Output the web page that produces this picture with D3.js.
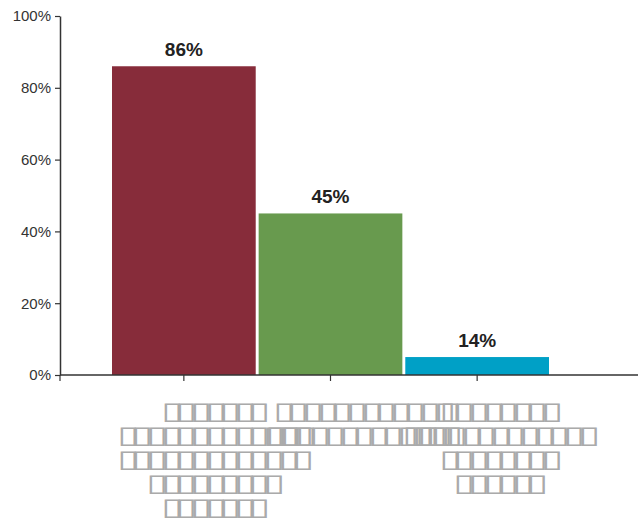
<!DOCTYPE html>
<html>
<head>
<meta charset="utf-8">
<script src="https://cdn.jsdelivr.net/npm/d3@7"></script>
<style>
  body { margin: 0; background: #fff; }
  text { font-family: "Liberation Sans", Arial, sans-serif; }
</style>
</head>
<body>
<div id="main"></div>
<script>
// data
const categories = ["A", "B", "C"];
const values = [86, 45, 5];
const valueLabels = ["86%", "45%", "14%"];
const yTicks = [0, 20, 40, 60, 80, 100];
// category labels are unreadable boxes (missing glyphs) in the reference
const categoryLines = [
  ["▯▯▯▯▯▯▯", "▯▯▯▯▯▯▯▯▯▯▯▯▯", "▯▯▯▯▯▯▯▯▯▯▯▯▯", "▯▯▯▯▯▯▯▯▯", "▯▯▯▯▯▯▯"],
  ["▯▯▯▯▯▯▯▯▯▯▯▯", "▯▯▯▯▯▯▯▯▯▯▯▯▯"],
  ["▯▯▯▯▯▯▯▯", "▯▯▯▯▯▯▯▯▯▯▯▯▯", "▯▯▯▯▯▯▯▯", "▯▯▯▯▯▯"]
];
const colors = ["#872c3a", "#689a4e", "#00a0c6"];

const ctx = { width: 642, height: 521, left: 60, right: 638, top: 16, bottom: 375 };

const svg = d3.select("#main").append("svg")
  .attr("width", ctx.width)
  .attr("height", ctx.height);

const x = d3.scaleBand()
  .domain(categories)
  .range([112, 549])
  .paddingInner(0.02);

const y = d3.scaleLinear()
  .domain([0, 100])
  .range([ctx.bottom, ctx.top]);

// bars
svg.append("g").selectAll("rect")
  .data(values)
  .join("rect")
  .attr("x", (d, i) => x(categories[i]))
  .attr("y", d => y(d))
  .attr("width", x.bandwidth())
  .attr("height", d => y(0) - y(d))
  .attr("fill", (d, i) => colors[i]);

// value labels
svg.append("g").selectAll("text")
  .data(values)
  .join("text")
  .attr("x", (d, i) => x(categories[i]) + x.bandwidth() / 2)
  .attr("y", d => y(d) - 10)
  .attr("text-anchor", "middle")
  .attr("font-size", 19)
  .attr("font-weight", "bold")
  .attr("fill", "#222")
  .text((d, i) => valueLabels[i]);

// y axis
const yAxis = svg.append("g")
  .attr("transform", `translate(${ctx.left},0)`)
  .call(d3.axisLeft(y).tickValues(yTicks).tickFormat(d => d + "%").tickSize(5).tickSizeOuter(0));
yAxis.select(".domain").attr("stroke", "#333").attr("stroke-width", 1.5);
yAxis.selectAll(".tick line").attr("stroke", "#333").attr("stroke-width", 1.2);
yAxis.selectAll(".tick text").attr("font-size", 15).attr("fill", "#333")
  .attr("font-family", "Liberation Sans, Arial, sans-serif").attr("x", -9);

// x axis line
svg.append("line")
  .attr("x1", ctx.left).attr("x2", ctx.right)
  .attr("y1", y(0)).attr("y2", y(0))
  .attr("stroke", "#333").attr("stroke-width", 1.5);

// x ticks (axis start plus category centres)
const tickXs = [ctx.left].concat(categories.map(c => x(c) + x.bandwidth() / 2));
svg.append("g").selectAll("line")
  .data(tickXs)
  .join("line")
  .attr("x1", d => d).attr("x2", d => d)
  .attr("y1", y(0)).attr("y2", y(0) + 6)
  .attr("stroke", "#333").attr("stroke-width", 1.2);

// category labels (stretched so the boxes look like missing-glyph boxes)
const labelOffsets = [28, 30, 20];
const sx = 1.7;
const lab = svg.append("g").selectAll("text")
  .data(categoryLines)
  .join("text")
  .attr("transform", (d, i) => `translate(${x(categories[i]) + x.bandwidth() / 2 + labelOffsets[i]},419) scale(${sx},1)`)
  .attr("text-anchor", "middle")
  .attr("font-family", "DejaVu Sans, sans-serif")
  .attr("font-size", 24)
  .attr("letter-spacing", -4.3)
  .attr("fill", "#aaa");

lab.selectAll("tspan")
  .data(d => d)
  .join("tspan")
  .attr("x", 0)
  .attr("dy", (d, i) => i === 0 ? 0 : 24)
  .text(d => d);
</script>
</body>
</html>
